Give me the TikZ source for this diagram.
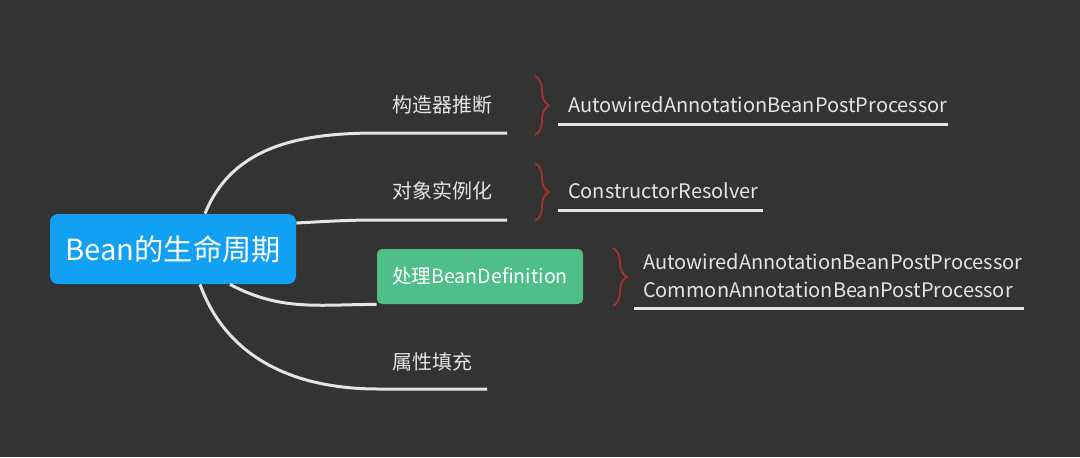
\documentclass[tikz,border=0pt]{standalone}
\usepackage{fontspec}
\setmainfont{Noto Sans CJK SC}
\usepackage{xcolor}
\definecolor{bgdark}{RGB}{51,51,51}
\definecolor{rootblue}{RGB}{18,160,242}
\definecolor{stepgreen}{RGB}{80,190,136}
\definecolor{linegray}{RGB}{228,228,228}
\definecolor{bracered}{RGB}{178,48,48}
\usetikzlibrary{decorations.pathreplacing}

\tikzset{
  branch/.style={draw=linegray, line width=1.5pt},
  labeltext/.style={text=linegray, font=\fontsize{10}{12}\selectfont},
  redbrace/.style={draw=bracered, line width=0.8pt, decorate,
    decoration={brace, amplitude=7pt}}
}

\begin{document}
\begin{tikzpicture}[x=0.5pt,y=0.5pt]
  % background
  \useasboundingbox[fill=bgdark] (0,0) rectangle (1080,457);

  % root topic
  \node[fill=rootblue, rounded corners=4pt, minimum width=123pt, minimum height=35pt,
        text=white, font=\fontsize{14.6}{16}\selectfont] (root) at (173,208) {Bean的生命周期};

  % branch topics
  \node[labeltext] (b1) at (442,352) {构造器推断};
  \node[labeltext] (b2) at (442,266) {对象实例化};
  \node[fill=stepgreen, rounded corners=2.5pt, minimum width=103pt, minimum height=27.5pt,
        text=white, font=\fontsize{9.8}{12}\selectfont] (b3) at (480,180.5) {处理BeanDefinition};
  \node[labeltext] (b4) at (432,95) {属性填充};

  % underline ends
  \coordinate (u1a) at (378,324); \coordinate (u1b) at (507,324);
  \coordinate (u2a) at (378,237); \coordinate (u2b) at (507,237);
  \coordinate (u4a) at (378,68);  \coordinate (u4b) at (487,68);

  % branches from root
  \draw[branch] ([xshift=16pt]root.north) to[out=68,in=180] (u1a) -- (u1b);
  \draw[branch] ([yshift=13pt]root.east) to[out=3,in=180] (u2a) -- (u2b);
  \draw[branch] ([xshift=28.5pt]root.south) to[out=-28,in=180] (b3.south west);
  \draw[branch] ([xshift=13.5pt]root.south) to[out=-70,in=180] (u4a) -- (u4b);

  % red braces
  \draw[redbrace] (535,381) -- (535,322);
  \draw[redbrace] (535,294) -- (535,236);
  \draw[redbrace] (613,209) -- (613,151);

  % detail texts
  \node[labeltext, anchor=west] (d1) at (561,352) {AutowiredAnnotationBeanPostProcessor};
  \node[labeltext, anchor=west] (d2) at (561,266) {ConstructorResolver};
  \node[labeltext, anchor=west, align=left, font=\fontsize{10}{14}\selectfont] (d3) at (636,181)
       {AutowiredAnnotationBeanPostProcessor\\CommonAnnotationBeanPostProcessor};

  % detail underlines
  \coordinate (v1a) at (558,333); \coordinate (v1b) at (948,333);
  \coordinate (v2a) at (558,247); \coordinate (v2b) at (763,247);
  \coordinate (v3a) at (634,149); \coordinate (v3b) at (1024,149);
  \draw[branch] (v1a) -- (v1b);
  \draw[branch] (v2a) -- (v2b);
  \draw[branch] (v3a) -- (v3b);
\end{tikzpicture}
\end{document}
